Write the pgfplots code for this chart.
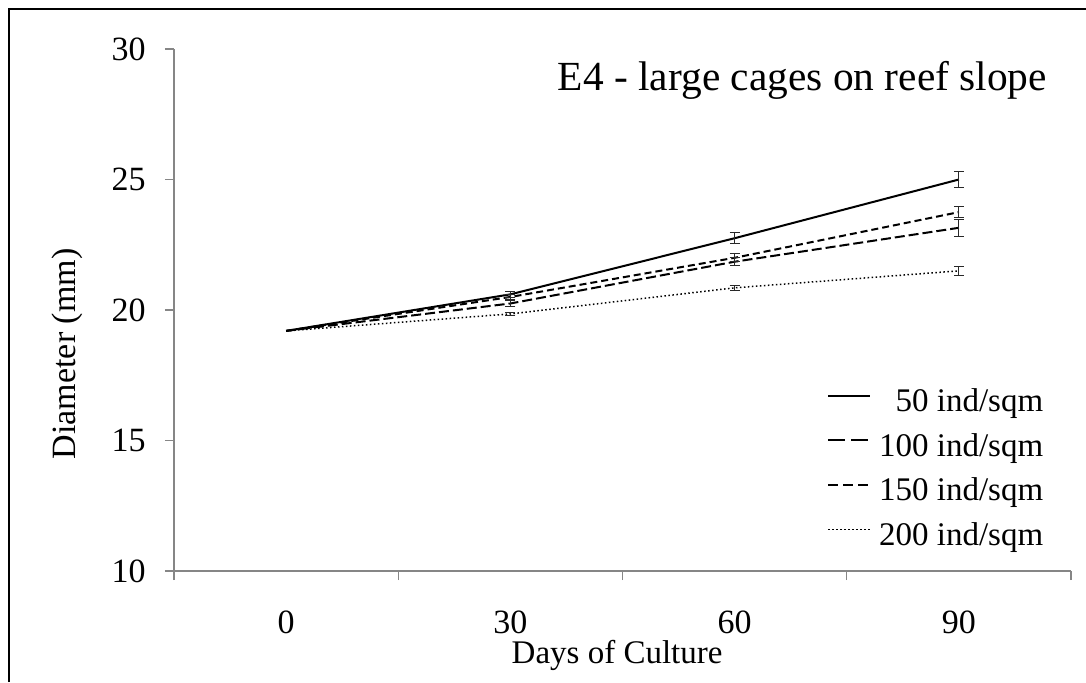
\documentclass[border=0pt]{standalone}
\usepackage{pgfplots}
\usepackage{pgfplotstable}
\pgfplotsset{compat=1.18}
\usepackage{fontspec}
\setmainfont{Liberation Serif}

\definecolor{axisgray}{RGB}{134,134,134}
\definecolor{barcol}{RGB}{40,40,40}

% mean diameter (mm) and error per stocking density; day index 0..3 = 0,30,60,90 days
\pgfplotstableread{
day y50 e50 y100 e100 y150 e150 y200 e200
0 19.20 0    19.20 0    19.20 0    19.20 0
1 20.60 0.12 20.25 0.12 20.50 0.10 19.85 0.06
2 22.75 0.22 21.85 0.15 22.00 0.15 20.85 0.09
3 25.00 0.30 23.15 0.33 23.75 0.22 21.50 0.17
}\datatable

\pgfplotsset{
  ebar/.style={draw=none, mark=none, forget plot,
    skip coords between index={0}{1},
    error bars/.cd, y dir=both, y explicit,
    error bar style={draw=barcol, line width=0.5pt, solid},
    error mark options={draw=barcol, line width=0.5pt, solid, mark size=2.5pt, rotate=90}},
}

\begin{document}
\begin{tikzpicture}
\useasboundingbox (0pt,0pt) rectangle (543pt,341pt);
\begin{axis}[
  at={(87pt,55.5pt)}, anchor=south west,
  scale only axis, width=448.5pt, height=261pt,
  xmin=-0.5, xmax=3.5, ymin=10, ymax=30,
  axis x line*=bottom, axis y line*=left,
  axis line style={axisgray, line width=0.6pt, -},
  xtick={-0.5,0.5,1.5,2.5,3.5},
  x tick label as interval,
  xticklabels={0,30,60,90},
  ytick={10,15,20,25,30},
  tick align=outside, major tick length=4.5pt,
  tick style={axisgray, line width=0.6pt},
  /pgf/number format/assume math mode=true,
  tick label style={font=\fontsize{17}{20}\selectfont, text=black},
  yticklabel style={anchor=east, inner sep=0pt, xshift=-9.5pt},
  xticklabel style={anchor=base, inner sep=0pt, yshift=-26.5pt},
  xlabel={Days of Culture},
  xlabel style={at={(axis description cs:0.494,-0.178)}, anchor=base,
    font=\fontsize{16.5}{19}\selectfont},
  ylabel={Diameter (mm)},
  ylabel style={at={(axis description cs:-0.1187,0.416)}, anchor=center,
    font=\fontsize{17}{20}\selectfont},
  legend cell align=right,
  legend style={draw=none, fill=none,
    at={(axis description cs:0.969,0.351)}, anchor=north east,
    inner sep=0pt, outer sep=0pt, row sep=6.25pt, column sep=4pt,
    font=\fontsize{16.5}{19}\selectfont,
    nodes={inner sep=0pt, text height=12pt, text depth=4pt}},
  legend image code/.code={\draw[#1] (0pt,4pt) -- (21pt,4pt);},
  clip=false,
]
\addplot[black, line width=1pt, solid] table[x=day, y=y50] {\datatable};
\addlegendentry{50 ind/sqm}
\addplot[black, line width=1pt, dash pattern=on 5pt off 2pt,
  legend image post style={dash pattern=on 8.5pt off 3pt}] table[x=day, y=y100] {\datatable};
\addlegendentry{100 ind/sqm}
\addplot[black, line width=1pt, dash pattern=on 3.5pt off 2pt,
  legend image post style={dash pattern=on 5pt off 2.5pt}] table[x=day, y=y150] {\datatable};
\addlegendentry{150 ind/sqm}
\addplot[black, line width=0.75pt, dash pattern=on 0.75pt off 1.25pt] table[x=day, y=y200] {\datatable};
\addlegendentry{200 ind/sqm}

\addplot[ebar] table[x=day, y=y50, y error=e50] {\datatable};
\addplot[ebar] table[x=day, y=y100, y error=e100] {\datatable};
\addplot[ebar] table[x=day, y=y150, y error=e150] {\datatable};
\addplot[ebar] table[x=day, y=y200, y error=e200] {\datatable};

\node[anchor=base east, font=\fontsize{20.7}{24}\selectfont]
  at (axis description cs:0.981,0.92) {E4 - large cages on reef slope};
\end{axis}
% outer frame edges
\draw[black, line width=0.6pt] (4.5pt,0pt) -- (4.5pt,336.5pt) -- (543pt,336.5pt);
\end{tikzpicture}
\end{document}
